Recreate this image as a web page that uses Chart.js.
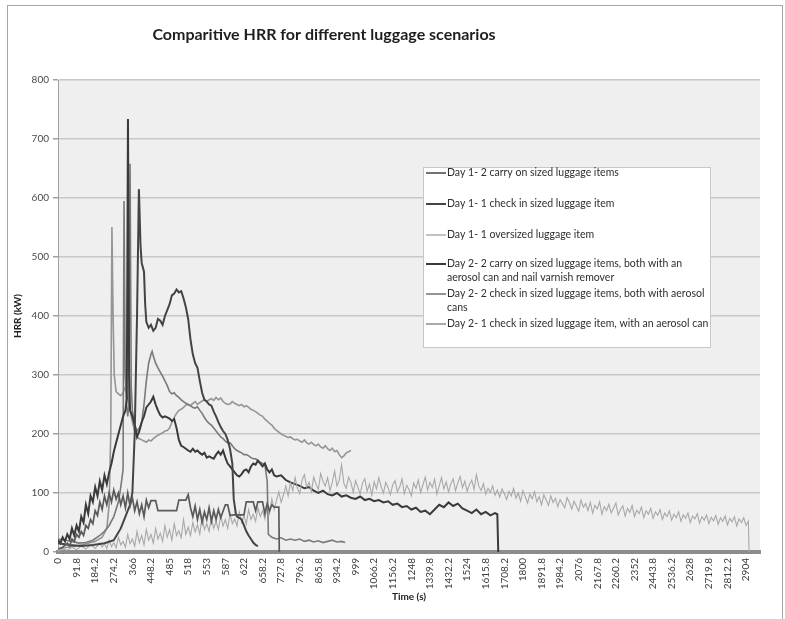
<!DOCTYPE html>
<html>
<head>
<meta charset="utf-8">
<script src="https://cdn.jsdelivr.net/npm/chart.js@4.4.0/dist/chart.umd.min.js"></script>
<style>
  html, body { margin: 0; padding: 0; background: #fff; }
  #wrap { position: relative; width: 785px; height: 619px; overflow: hidden; }
  #frame { position: absolute; left: 7px; top: 5px; width: 774px; height: 700px; border: 1px solid #a6a6a6; }
  canvas { position: absolute; left: 0; top: 0; }
</style>
</head>
<body>
<div id="wrap">
  <div id="frame"></div>
  <canvas id="hrrChart" width="785" height="619"></canvas>
</div>
<script>
// x tick labels (time, s) - one label every 8 samples
const timeLabels = ['0', '91.8', '184.2', '274.2', '366', '448.2', '485', '518', '553', '587', '622', '658.2',
    '727.8', '796.2', '865.8', '934.2', '999', '1066.2', '1156.2', '1248', '1339.8', '1432.2', '1524', '1615.8',
    '1708.2', '1800', '1891.8', '1984.2', '2076', '2167.8', '2260.2', '2352', '2443.8', '2536.2', '2628',
    '2719.8', '2812.2', '2904'];
const samplesPerLabel = 8;

const seriesNames = [
    ['Day 1- 2 carry on sized luggage items'],
    ['Day 1- 1 check in sized luggage item'],
    ['Day 1- 1 oversized luggage item'],
    ['Day 2- 2 carry on sized luggage items, both with an', 'aerosol can and nail varnish remover'],
    ['Day 2- 2 check in sized luggage items, both with aerosol', 'cans'],
    ['Day 2- 1 check in sized luggage item, with an aerosol can'],
];

// [sample, HRR kW]
const day1CarryOn = [[0,5],[2,8],[4,15],[5,10],[6,22],[7,18],[8,30],[9,25],[10,35],[11,28],[12,45],[13,40],
    [14,55],[15,48],[16,70],[17,62],[18,85],[19,72],[20,95],[21,80],[22,100],[23,85],[24,105],[25,90],[26,100],
    [27,80],[28,95],[29,75],[30,100],[31,78],[32,92],[33,70],[34,85],[35,65],[36,80],[37,60],[38,88],[39,75],
    [40,87],[42,87],[43,70],[51,70],[52,88],[55,88],[56,97],[57,75],[58,60],[59,78],[60,55],[61,72],[62,50],
    [63,68],[64,55],[65,75],[66,52],[67,70],[68,55],[69,72],[70,58],[72,80],[73,80],[74,62],[76,63],[80,63],
    [81,85],[84,85],[85,70],[86,85],[88,85],[89,65],[90,82],[91,70],[92,80],[93,76],[95,76],[95.2,0]];

const day1CheckIn = [[0,15],[5,12],[10,10],[15,12],[20,15],[24,20],[27,40],[29,60],[31,80],[32,100],[33,200],
    [34,400],[34.8,615],[35.5,520],[36,490],[37,475],[37.5,420],[38,390],[39,380],[40,385],[41,375],[42,380],
    [43,395],[44,392],[45,385],[46,400],[47,410],[48,420],[49,435],[50,438],[51,445],[52,440],[53,442],[54,430],
    [55,415],[56,395],[57,360],[58,335],[59,320],[60,312],[61,290],[62,270],[63,258],[64,255],[65,250],[66,248],
    [67,238],[68,230],[69,220],[70,212],[71,205],[72,200],[73,190],[74,175],[75,150],[75.6,90],[76.5,65],[77,60],
    [78,58],[79,55],[80,45],[81,35],[82,28],[83,22],[84,16],[85,12],[86,10]];

const day1Oversized = [[0,2],[2,5],[4,3],[6,8],[8,4],[10,10],[12,5],[14,12],[16,6],[18,15],[19,8],[20,14],[21,6],
    [22,20],[23,9],[24,16],[25,7],[26,25],[27,12],[28,18],[29,8],[30,30],[31,14],[32,22],[33,10],[34,35],[35,16],
    [36,28],[37,12],[38,38],[39,20],[40,30],[41,15],[42,40],[43,22],[44,32],[45,18],[46,45],[47,25],[48,38],
    [49,20],[50,48],[51,28],[52,36],[53,24],[54,55],[55,30],[56,42],[57,28],[58,50],[59,34],[60,46],[61,30],
    [62,60],[63,38],[64,48],[65,35],[66,58],[67,40],[68,52],[69,38],[70,62],[71,44],[72,55],[73,40],[74,65],
    [75,48],[76,56],[77,44],[78,68],[79,50],[80,62],[81,47],[82,72],[83,55],[84,64],[85,52],[86,75],[87,60],
    [88,70],[89,56],[90,80],[91,65],[92,90],[93,72],[94,88],[95,102],[96,84],[97,97],[98,112],[99,95],[100,118],
    [101,104],[102,126],[103,108],[104,99],[105,122],[106,131],[107,110],[108,118],[109,102],[110,127],[111,115],
    [112,106],[113,133],[114,120],[115,112],[116,126],[117,104],[118,118],[119,137],[120,112],[121,122],[122,148],
    [123,116],[124,108],[125,127],[126,118],[127,101],[128,121],[129,110],[130,98],[131,117],[132,124],[133,103],
    [134,115],[135,96],[136,119],[137,107],[138,126],[139,111],[140,100],[141,118],[142,109],[143,97],[144,114],
    [145,121],[146,102],[147,110],[148,124],[149,99],[150,113],[151,106],[152,95],[153,117],[154,108],[155,122],
    [156,101],[157,114],[158,127],[159,105],[160,118],[161,109],[162,123],[163,98],[164,112],[165,126],[166,107],
    [167,119],[168,102],[169,115],[170,124],[171,104],[172,117],[173,128],[174,109],[175,120],[176,103],[177,114],
    [178,122],[179,106],[180,131],[181,112],[182,104],[183,116],[184,98],[185,108],[186,101],[187,112],[188,96],
    [189,105],[190,93],[191,107],[192,99],[193,89],[194,103],[195,95],[196,108],[197,91],[198,100],[199,86],
    [200,104],[201,94],[202,83],[203,98],[204,90],[205,102],[206,85],[207,94],[208,80],[209,97],[210,88],[211,79],
    [212,95],[213,84],[214,91],[215,77],[216,89],[217,82],[218,75],[219,92],[220,84],[221,73],[222,86],[223,78],
    [224,69],[225,88],[226,76],[227,82],[228,70],[229,84],[230,66],[231,79],[232,73],[233,85],[234,64],[235,77],
    [236,70],[237,81],[238,66],[239,74],[240,83],[241,63],[242,72],[243,78],[244,61],[245,74],[246,67],[247,79],
    [248,60],[249,71],[250,65],[251,76],[252,58],[253,70],[254,64],[255,74],[256,57],[257,68],[258,62],[259,72],
    [260,55],[261,66],[262,60],[263,70],[264,54],[265,64],[266,58],[267,68],[268,52],[269,63],[270,57],[271,66],
    [272,50],[273,61],[274,56],[275,65],[276,49],[277,60],[278,54],[279,63],[280,48],[281,59],[282,53],[283,62],
    [284,47],[285,58],[286,52],[287,61],[288,46],[289,57],[290,51],[291,60],[292,44],[293,56],[294,50],[295,58],
    [296,45],[297,52],[297.3,0]];

const day2CarryOn = [[0,20],[1,15],[2,25],[3,18],[4,30],[5,22],[6,40],[7,28],[8,45],[9,35],[10,60],[11,50],[12,80],
    [13,65],[14,95],[15,85],[16,110],[17,95],[18,120],[19,105],[20,130],[21,115],[22,135],[23,150],[24,170],
    [25,185],[26,200],[27,215],[28,230],[29,240],[29.6,260],[30.1,734],[30.6,300],[31,240],[32,230],[33,215],
    [34,195],[35,205],[36,220],[37,230],[38,245],[39,250],[40,255],[41,263],[42,250],[43,240],[44,232],[45,228],
    [46,230],[47,228],[48,226],[49,222],[50,225],[51,210],[52,190],[53,180],[54,178],[55,175],[56,172],[57,170],
    [58,175],[59,170],[60,172],[61,168],[62,165],[63,168],[64,160],[65,162],[66,160],[67,158],[68,165],[69,170],
    [70,165],[71,172],[72,160],[73,150],[74,145],[75,140],[76,135],[77,130],[78,128],[79,132],[80,138],[81,140],
    [82,135],[83,145],[84,150],[85,148],[86,155],[87,150],[88,145],[89,150],[90,140],[91,135],[92,140],[93,130],
    [94,128],[96,130],[98,122],[100,118],[102,115],[104,112],[106,108],[108,110],[110,104],[112,100],[114,104],
    [116,98],[118,96],[120,100],[122,94],[124,96],[126,92],[128,90],[130,94],[132,88],[134,90],[136,86],[138,88],
    [140,84],[142,86],[144,80],[146,82],[148,76],[150,78],[152,72],[154,75],[156,68],[158,70],[160,64],[162,72],
    [164,80],[166,76],[168,84],[170,78],[172,82],[174,74],[176,70],[178,66],[180,72],[182,64],[184,68],[186,62],
    [188,66],[189,64],[189.4,0]];

const day2CheckInTwo = [[0,22],[3,20],[6,18],[9,15],[12,16],[15,20],[18,28],[20,35],[22,45],[24,60],[26,85],
    [27,110],[28,140],[28.4,595],[28.9,300],[29.5,250],[30,230],[30.5,250],[31,658],[31.5,280],[32,240],[33,215],
    [34,205],[35,210],[36,220],[37,250],[38,290],[39,320],[40,335],[40.5,340],[41,332],[42,320],[43,312],[44,305],
    [45,298],[46,290],[47,282],[48,272],[49,268],[50,270],[51,265],[52,262],[53,258],[54,255],[55,252],[56,250],
    [57,248],[58,245],[59,244],[60,246],[61,240],[62,235],[63,228],[64,222],[65,218],[66,215],[67,210],[68,205],
    [69,200],[70,195],[71,192],[72,188],[73,185],[74,185],[75,180],[76,175],[77,172],[78,170],[79,168],[80,165],
    [81,165],[82,163],[83,160],[84,158],[85,158],[86,155],[87,152],[88,150],[89,148],[90,120],[90.5,30],[92,25],
    [94,22],[96,24],[98,20],[100,22],[102,20],[104,22],[106,18],[108,20],[110,17],[112,19],[114,16],[116,18],
    [118,20],[120,17],[122,18],[123.5,16]];

const day2CheckInOne = [[0,5],[4,8],[8,10],[12,14],[16,18],[19,25],[21,40],[22,80],[22.7,200],[23.2,551],[23.7,400],
    [24.2,300],[25,272],[26,268],[27,265],[28,270],[29,280],[30,260],[31,240],[32,220],[33,205],[34,195],[35,192],
    [36,190],[37,188],[38,186],[39,190],[40,188],[41,192],[42,195],[43,198],[44,200],[45,202],[46,205],[47,206],
    [48,210],[49,220],[50,228],[51,235],[52,240],[53,242],[54,245],[55,249],[56,250],[57,248],[58,252],[59,255],
    [60,250],[61,253],[62,256],[63,258],[64,255],[65,258],[66,260],[67,257],[68,262],[69,258],[70,261],[71,255],
    [72,252],[73,250],[74,251],[75,255],[76,252],[77,250],[78,248],[79,250],[80,246],[81,248],[82,245],[83,242],
    [84,240],[85,238],[86,235],[87,232],[88,230],[89,225],[90,222],[91,218],[92,215],[93,210],[94,206],[95,203],
    [96,200],[97,198],[98,196],[99,194],[100,195],[101,192],[102,190],[103,191],[104,188],[105,186],[106,190],
    [107,185],[108,183],[109,186],[110,182],[111,180],[112,183],[113,178],[114,176],[115,180],[116,175],[117,172],
    [118,176],[119,170],[120,172],[121,165],[122,160],[123,163],[124,168],[125,170],[126,172]];

const seriesData = [day1CarryOn, day1CheckIn, day1Oversized, day2CarryOn, day2CheckInTwo, day2CheckInOne];
const seriesColors = ['#5a5a5a', '#444444', '#a8a8a8', '#3a3a3a', '#7a7a7a', '#959595'];
const seriesWidths = [1.7, 2, 1.1, 2, 1.6, 1.6];

// grey plot area
const plotBackground = {
    id: 'plotBackground',
    beforeDraw(chart) {
        const { ctx, chartArea: a } = chart;
        ctx.save();
        ctx.fillStyle = '#efefef';
        ctx.fillRect(a.left, a.top, a.right - a.left, a.bottom - a.top);
        ctx.restore();
    }
};

// title + boxed legend like the Excel original
const titleAndLegend = {
    id: 'titleAndLegend',
    afterDraw(chart) {
        const ctx = chart.ctx;
        ctx.save();
        ctx.fillStyle = '#1e1e1e';
        ctx.font = 'bold 16px Lato';
        ctx.textAlign = 'center';
        ctx.textBaseline = 'middle';
        ctx.fillText('Comparitive HRR for different luggage scenarios', 324, 35);

        ctx.fillStyle = '#ffffff';
        ctx.strokeStyle = '#c8c8c8';
        ctx.lineWidth = 1;
        ctx.fillRect(423.5, 167.5, 287, 180);
        ctx.strokeRect(423.5, 167.5, 287, 180);

        const rowY = [173, 204, 235, 264, 294, 324];
        ctx.font = '10.5px Lato';
        ctx.textAlign = 'left';
        chart.data.datasets.forEach((ds, i) => {
            const y = rowY[i];
            ctx.strokeStyle = ds.borderColor;
            ctx.lineWidth = Math.max(ds.borderWidth, 1.4);
            ctx.beginPath();
            ctx.moveTo(426, y);
            ctx.lineTo(446, y);
            ctx.stroke();
            ctx.fillStyle = '#2e2e2e';
            seriesNames[i].forEach((line, k) => ctx.fillText(line, 447, y + k * 14));
        });
        ctx.restore();
    }
};

new Chart(document.getElementById('hrrChart'), {
    type: 'line',
    data: {
        datasets: seriesData.map((pts, i) => ({
            label: seriesNames[i].join(' '),
            data: pts.map(([x, y]) => ({ x, y })),
            borderColor: seriesColors[i],
            borderWidth: seriesWidths[i],
            pointRadius: 0,
            tension: 0,
            fill: false,
        })),
    },
    options: {
        responsive: false,
        animation: false,
        layout: { padding: { top: 80, right: 25, bottom: 0, left: 0 } },
        plugins: { legend: { display: false }, title: { display: false }, tooltip: { enabled: false } },
        scales: {
            x: {
                type: 'linear',
                min: 0,
                max: 302,
                afterBuildTicks: (scale) => {
                    scale.ticks = timeLabels.map((_, i) => ({ value: i * samplesPerLabel }));
                },
                afterFit: (scale) => { scale.height = 67; },
                ticks: {
                    autoSkip: false,
                    minRotation: 90,
                    maxRotation: 90,
                    padding: 6,
                    color: '#3a3a3a',
                    font: { family: 'Lato', size: 10 },
                    callback: (value) => timeLabels[Math.round(value / samplesPerLabel)],
                },
                grid: { display: false, drawTicks: false },
                border: { display: true, color: '#8c8c8c', width: 4 },
                title: {
                    display: true,
                    text: 'Time (s)',
                    color: '#222',
                    font: { family: 'Lato', size: 10, weight: 'bold' },
                    padding: { top: 0, bottom: 16 },
                },
            },
            y: {
                min: 0,
                max: 800,
                afterFit: (scale) => { scale.width = 58; },
                ticks: { stepSize: 100, padding: 4, color: '#4a4a4a', font: { family: 'Lato', size: 10 } },
                grid: { color: '#c8c8c8', lineWidth: 1.5, tickLength: 5, tickColor: '#a0a0a0' },
                border: { color: '#a0a0a0', width: 1 },
                title: {
                    display: true,
                    text: 'HRR (kW)',
                    color: '#222',
                    font: { family: 'Lato', size: 10, weight: 'bold' },
                    padding: { top: 12, bottom: 0 },
                },
            },
        },
    },
    plugins: [plotBackground, titleAndLegend],
});
</script>
</body>
</html>
